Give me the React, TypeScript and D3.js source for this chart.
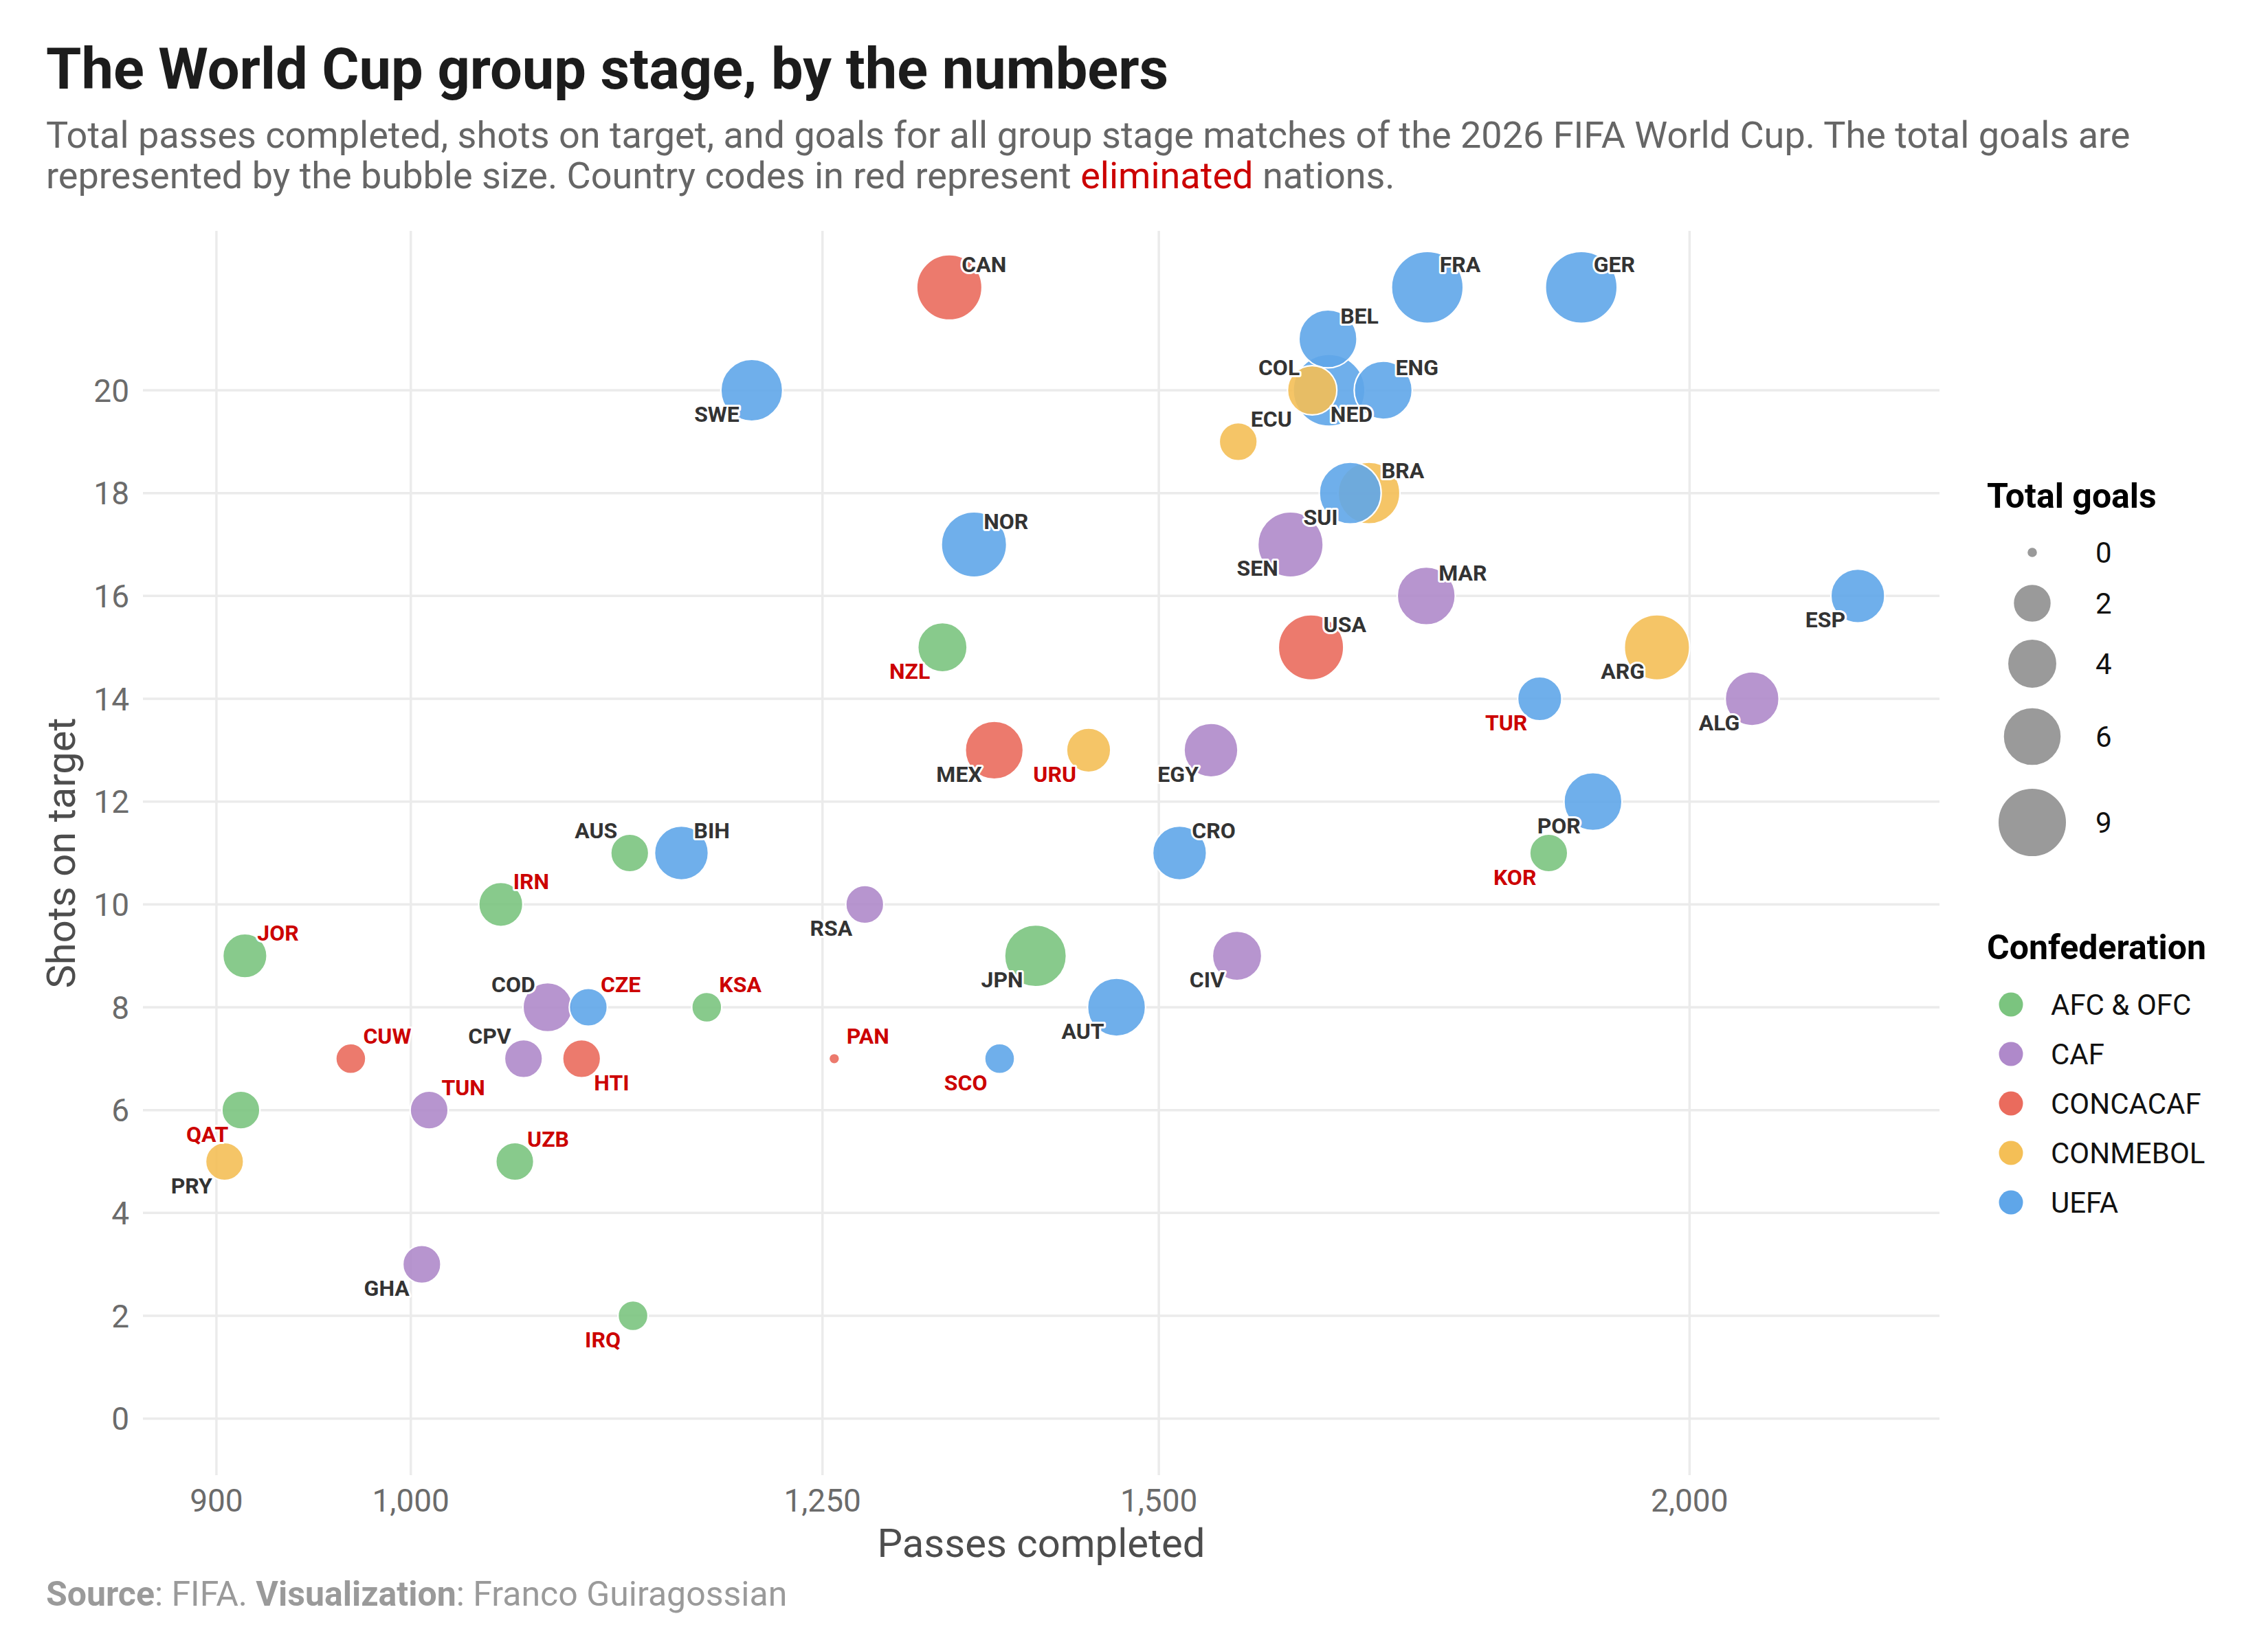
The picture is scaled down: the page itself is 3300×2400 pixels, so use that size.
import React from 'react';
import * as d3 from 'd3';

// ---- data ----
const teams = [
  'CAN', 'FRA', 'GER', 'BEL', 'COL', 'NED', 'ENG', 'SWE', 'ECU', 'BRA', 'SUI', 'SEN',
  'NOR', 'MAR', 'USA', 'NZL', 'MEX', 'URU', 'EGY', 'TUR', 'ESP', 'ARG', 'ALG', 'POR',
  'KOR', 'CRO', 'AUS', 'BIH', 'IRN', 'RSA', 'JOR', 'COD', 'CZE', 'KSA', 'JPN', 'CIV',
  'AUT', 'CUW', 'CPV', 'HTI', 'PAN', 'SCO', 'TUN', 'QAT', 'PRY', 'UZB', 'GHA', 'IRQ',
];
const confeds = [
  'CONCACAF', 'UEFA', 'UEFA', 'UEFA', 'CONMEBOL', 'UEFA', 'UEFA', 'UEFA', 'CONMEBOL', 'CONMEBOL', 'UEFA', 'CAF',
  'UEFA', 'CAF', 'CONCACAF', 'AFC & OFC', 'CONCACAF', 'CONMEBOL', 'CAF', 'UEFA', 'UEFA', 'CONMEBOL', 'CAF', 'UEFA',
  'AFC & OFC', 'UEFA', 'AFC & OFC', 'UEFA', 'AFC & OFC', 'CAF', 'AFC & OFC', 'CAF', 'UEFA', 'AFC & OFC', 'AFC & OFC', 'CAF',
  'UEFA', 'CONCACAF', 'CAF', 'CONCACAF', 'CONCACAF', 'UEFA', 'CAF', 'AFC & OFC', 'CONMEBOL', 'AFC & OFC', 'CAF', 'AFC & OFC',
];
const passes = [
  1339, 1735, 1886, 1644, 1630, 1645, 1694, 1203, 1566, 1681, 1664, 1611,
  1357, 1734, 1629, 1334, 1372, 1444, 1543, 1844, 2191, 1965, 2069, 1898,
  1853, 1517, 1126, 1158, 1050, 1279, 914, 1077, 1101, 1174, 1403, 1565,
  1466, 968, 1063, 1097, 1258, 1376, 1010, 912, 904, 1058, 1006, 1128,
];
const shots = [
  22, 22, 22, 21, 20, 20, 20, 20, 19, 18, 18, 17,
  17, 16, 15, 15, 13, 13, 13, 14, 16, 15, 14, 12,
  11, 11, 11, 11, 10, 10, 9, 8, 8, 8, 9, 9,
  8, 7, 7, 7, 7, 7, 6, 6, 5, 5, 3, 2,
];
const goals = [
  8, 10, 10, 6, 4, 10, 6, 7, 2, 7, 7, 8,
  8, 6, 8, 4, 6, 3, 5, 3, 5, 8, 5, 6,
  2, 5, 2, 5, 3, 2, 3, 4, 2, 1, 7, 4,
  6, 1, 2, 2, 0, 1, 2, 2, 2, 2, 2, 1,
];
const eliminated = [
  'NZL', 'URU', 'TUR', 'KOR', 'IRN', 'JOR', 'CZE', 'KSA',
  'CUW', 'HTI', 'PAN', 'SCO', 'TUN', 'QAT', 'UZB', 'IRQ',
];

const confedNames = ['AFC & OFC', 'CAF', 'CONCACAF', 'CONMEBOL', 'UEFA'];
const confedColors = ['#7BC47F', '#AF89CA', '#EA6B5D', '#F4BF56', '#5FA6E9'];
const goalBreaks = [0, 2, 4, 6, 9];
const xTicks = [900, 1000, 1250, 1500, 2000];
const yTicks = [0, 2, 4, 6, 8, 10, 12, 14, 16, 18, 20];

// which corner of the bubble the code label sits at
const labelSide: Record<string, string> = {
  CAN: 'ne', FRA: 'ne', GER: 'ne', BEL: 'ne', COL: 'nw', NED: 'se', ENG: 'ne', SWE: 'sw',
  ECU: 'ne', BRA: 'ne', SUI: 'sw', SEN: 'sw', NOR: 'ne', MAR: 'ne', USA: 'ne', NZL: 'sw',
  MEX: 'sw', URU: 'sw', EGY: 'sw', TUR: 'sw', ESP: 'sw', ARG: 'sw', ALG: 'sw', POR: 'sw',
  KOR: 'sw', CRO: 'ne', AUS: 'nw', BIH: 'ne', IRN: 'ne', RSA: 'sw', JOR: 'ne', COD: 'nw',
  CZE: 'ne', KSA: 'ne', JPN: 'sw', CIV: 'sw', AUT: 'sw', CUW: 'ne', CPV: 'nw', HTI: 'se',
  PAN: 'ne', SCO: 'sw', TUN: 'ne', QAT: 'sw', PRY: 'sw', UZB: 'ne', GHA: 'sw', IRQ: 'sw',
};
const labelShiftX: Record<string, number> = { NED: -16, NOR: -4 };

const W = 3300;
const H = 2400;
const panel = { left: 208, right: 2822, top: 336, bottom: 2147 };
const FONT = 'Roboto, "Noto Sans", sans-serif';

export default function App() {
  const rows = teams.map((t, i) => ({
    code: t, confed: confeds[i], passes: passes[i], shots: shots[i], goals: goals[i],
    out: eliminated.includes(t), order: i,
  }));

  // ggplot-like 5% expansion on log scale
  const lx = d3.extent(passes.map(p => Math.log(p))) as [number, number];
  const ex = (lx[1] - lx[0]) * 0.05;
  const x = d3.scaleLog()
    .domain([Math.exp(lx[0] - ex), Math.exp(lx[1] + ex)])
    .range([panel.left, panel.right]);
  const y = d3.scaleLinear().domain([-1.1, 23.1]).range([panel.bottom, panel.top]);
  const r = d3.scaleSqrt().domain([0, 10]).range([8.8, 53.3]);
  const color = d3.scaleOrdinal<string, string>().domain(confedNames).range(confedColors);

  const drawn = [...rows].sort((a, b) => b.goals - a.goals || a.order - b.order);

  const labelAttrs = (d: typeof rows[number]) => {
    const side = labelSide[d.code] || 'ne';
    const cx = x(d.passes) + (labelShiftX[d.code] || 0);
    const cy = y(d.shots);
    const east = side[1] === 'e';
    const north = side[0] === 'n';
    return {
      x: east ? cx + 18 : cx - 18,
      y: north ? cy - 22 : cy + 46,
      anchor: east ? 'start' : 'end',
    };
  };

  return (
    <svg width={W} height={H} style={{ position: 'absolute', left: 0, top: 0, background: '#fff' }}
      fontFamily={FONT}>
      <rect width={W} height={H} fill="#fff" />

      {/* header */}
      <text x={67} y={129} fontSize={83} fontWeight={700} fill="#1c1c1c">
        The World Cup group stage, by the numbers
      </text>
      <text x={67} y={215} fontSize={54} fill="#666">
        Total passes completed, shots on target, and goals for all group stage matches of the 2026 FIFA World Cup. The total goals are
      </text>
      <text x={67} y={274} fontSize={54} fill="#666">
        represented by the bubble size. Country codes in red represent <tspan fill="#CC0000">eliminated</tspan> nations.
      </text>

      {/* grid */}
      <g stroke="#EBEBEB" strokeWidth={3.5}>
        {yTicks.map(t => (
          <line key={'gy' + t} x1={panel.left} x2={panel.right} y1={y(t)} y2={y(t)} />
        ))}
        {xTicks.map(t => (
          <line key={'gx' + t} x1={x(t)} x2={x(t)} y1={panel.top} y2={panel.bottom} />
        ))}
      </g>

      {/* axes text */}
      <g fontSize={46} fill="#6b6b6b">
        {yTicks.map(t => (
          <text key={'ty' + t} x={188} y={y(t)} dy="0.36em" textAnchor="end">{t}</text>
        ))}
        {xTicks.map(t => (
          <text key={'tx' + t} x={x(t)} y={2200} textAnchor="middle">{d3.format(',')(t)}</text>
        ))}
      </g>
      <text x={(panel.left + panel.right) / 2} y={2266} fontSize={58} fill="#4d4d4d" textAnchor="middle">
        Passes completed
      </text>
      <text transform={`translate(109,${(panel.top + panel.bottom) / 2}) rotate(-90)`} fontSize={58}
        fill="#4d4d4d" textAnchor="middle">
        Shots on target
      </text>

      {/* bubbles */}
      <g>
        {drawn.map(d => (
          <circle key={d.code} cx={x(d.passes)} cy={y(d.shots)} r={r(d.goals) - 1}
            fill={color(d.confed)} fillOpacity={0.9} stroke="#fff" strokeWidth={2.2} />
        ))}
      </g>

      {/* labels */}
      <g fontSize={32} fontWeight={700} stroke="#fff" strokeWidth={6} strokeLinejoin="round"
        style={{ paintOrder: 'stroke' }}>
        {rows.map(d => {
          const a = labelAttrs(d);
          return (
            <text key={'l' + d.code} x={a.x} y={a.y} textAnchor={a.anchor}
              fill={d.out ? '#CC0000' : '#333333'}>{d.code}</text>
          );
        })}
      </g>

      {/* size legend */}
      <text x={2891} y={739} fontSize={50} fontWeight={700} fill="#000">Total goals</text>
      {goalBreaks.map((g, i) => {
        const ys = [804, 878, 966, 1072, 1197];
        return (
          <g key={'sg' + g}>
            <circle cx={2957} cy={ys[i]} r={r(g) - 1} fill="#9A9A9A" stroke="#fff" strokeWidth={2} />
            <text x={3049} y={ys[i]} dy="0.36em" fontSize={42} fill="#111">{g}</text>
          </g>
        );
      })}

      {/* colour legend */}
      <text x={2891} y={1396} fontSize={50} fontWeight={700} fill="#000">Confederation</text>
      {confedNames.map((c, i) => (
        <g key={'cl' + c}>
          <circle cx={2926} cy={1462 + i * 72} r={17.5} fill={color(c)} />
          <text x={2984} y={1462 + i * 72} dy="0.36em" fontSize={42} fill="#111">{c}</text>
        </g>
      ))}

      {/* caption */}
      <text x={67} y={2337} fontSize={50} fill="#9a9a9a">
        <tspan fontWeight={700}>Source</tspan>: FIFA. <tspan fontWeight={700}>Visualization</tspan>: Franco Guiragossian
      </text>
    </svg>
  );
}
